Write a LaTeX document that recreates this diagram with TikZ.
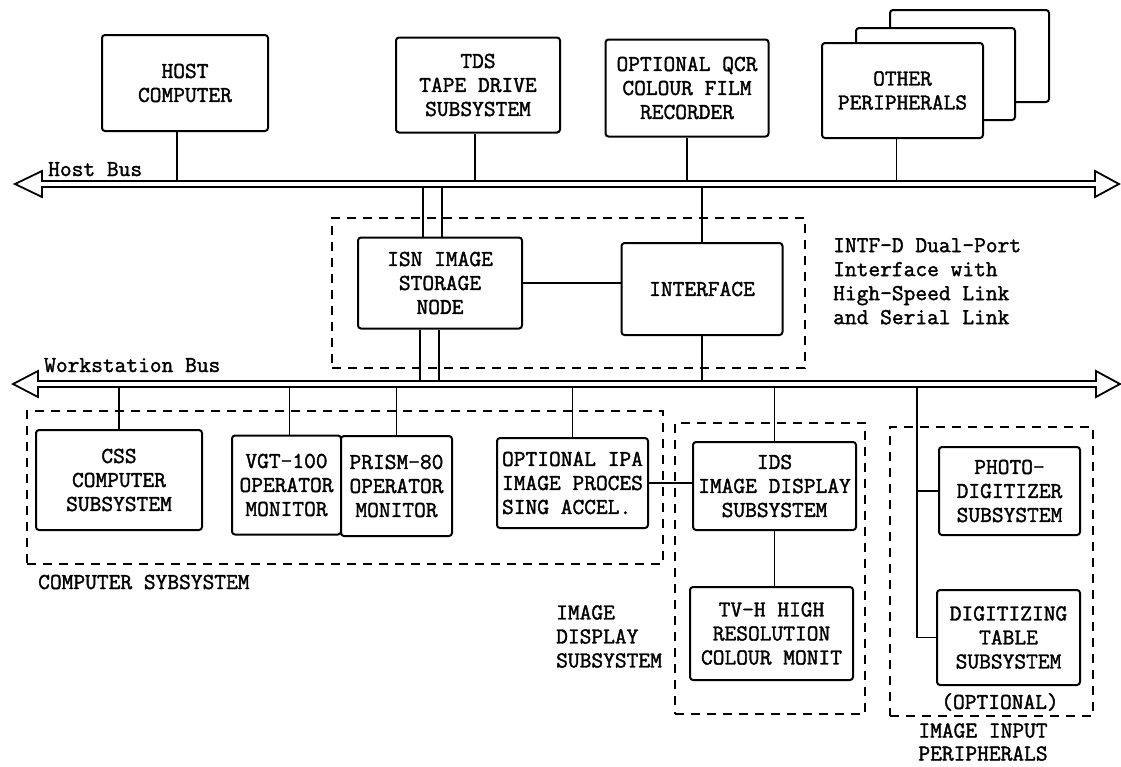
\documentclass[tikz,border=0pt]{standalone}
\usepackage{fontspec}
\newfontfamily\twfont[FakeBold=1.6]{Latin Modern Mono}
\newcommand\dgfont{\twfont\fontsize{22.8}{24}\selectfont}
\usetikzlibrary{calc}
\begin{document}
\begin{tikzpicture}[x=1pt,y=-1pt,
  box/.style={draw, line width=2pt, rounded corners=3pt, align=center, inner sep=1pt, fill=white, font=\dgfont},
  dashbox/.style={draw, line width=1.6pt, dash pattern=on 9pt off 7pt, inner sep=0pt},
  conn/.style={line width=1.3pt},
  bus/.style={line width=1.8pt, line join=miter, fill=white},
  lbl/.style={inner sep=0pt, font=\dgfont}]
\useasboundingbox (0,0) rectangle (1121,766);

% ---------- buses ----------
\draw[bus] (15,184) -- (42,171) -- (42,181) -- (1095,181) -- (1095,171) -- (1119,184)
  -- (1095,197) -- (1095,187) -- (42,187) -- (42,197) -- cycle;
\coordinate (hbt) at (0,181);
\coordinate (hbb) at (0,187);
\draw[bus] (13,384) -- (38,371) -- (38,381) -- (1096,381) -- (1096,371) -- (1120,384)
  -- (1096,397) -- (1096,387) -- (38,387) -- (38,397) -- cycle;
\coordinate (wbt) at (0,381);
\coordinate (wbb) at (0,387);
\node[lbl, anchor=base west] (hbl) at (48,176) {Host Bus};
\node[lbl, anchor=base west] (wbl) at (44,372) {Workstation Bus};

% ---------- top peripherals ----------
\node[box, minimum width=166, minimum height=96] (host) at (185,83) {HOST\\COMPUTER};
\node[box, minimum width=164, minimum height=95] (tds) at (478,85) {TDS\\TAPE DRIVE\\SUBSYSTEM};
\node[box, minimum width=163, minimum height=97] (qcr) at (687,88) {OPTIONAL QCR\\COLOUR FILM\\RECORDER};
\node[box, minimum width=159, minimum height=92] (oth3) at (969.5,56) {};
\node[box, minimum width=159, minimum height=92] (oth2) at (935.5,74) {};
\node[box, minimum width=161, minimum height=95] (oth) at (902.5,90.5) {OTHER\\PERIPHERALS};

\coordinate (hc) at ($(host.south)+(-8,0)$);
\draw[conn] (hc) -- (hc |- hbt);
\coordinate (tc) at ($(tds.south)+(-3,0)$);
\draw[conn] (tc) -- (tc |- hbt);
\draw[conn] (qcr.south) -- (qcr.south |- hbt);
\coordinate (oc) at ($(oth.south)+(-6,0)$);
\draw[conn] (oc) -- (oc |- hbt);

% ---------- interface block ----------
\node[dashbox, minimum width=473, minimum height=150] (intfbox) at (568.5,293) {};
\node[box, minimum width=164, minimum height=91] (isn) at (440,283) {ISN IMAGE\\STORAGE\\NODE};
\node[box, minimum width=161, minimum height=92] (intf) at (702,289) {INTERFACE};
\draw[conn] (isn.east) -- (isn.east -| intf.west);
\draw[conn] (intf.north) -- (intf.north |- hbb);
\draw[conn] (intf.south) -- (intf.south |- wbt);
\coordinate (ia) at ($(isn.north)+(-17,0)$);
\coordinate (ib) at ($(isn.north)+(2,0)$);
\coordinate (ic) at ($(isn.south)+(-20,0)$);
\coordinate (id) at ($(isn.south)+(-1,0)$);
\draw[conn] (ia) -- (ia |- hbb);
\draw[conn] (ib) -- (ib |- hbb);
\draw[conn] (ic) -- (ic |- wbt);
\draw[conn] (id) -- (id |- wbt);
\node[lbl, anchor=north west, align=left] (intftxt) at (833,238)
  {INTF-D Dual-Port\\Interface with\\High-Speed Link\\and Serial Link};

% ---------- lower subsystems ----------
\node[dashbox, minimum width=636, minimum height=153] (compsys) at (345,487.5) {};
\node[dashbox, minimum width=190, minimum height=291] (idsbox) at (770,568.5) {};
\node[dashbox, minimum width=203, minimum height=289] (inbox) at (991.5,571.5) {};

\node[box, minimum width=166, minimum height=100] (css) at (119,480) {CSS\\COMPUTER\\SUBSYSTEM};
\node[box, minimum width=109, minimum height=99] (vgt) at (286.5,485) {VGT-100\\OPERATOR\\MONITOR};
\node[box, minimum width=111, minimum height=100] (prism) at (396.5,486) {PRISM-80\\OPERATOR\\MONITOR};
\node[box, minimum width=151, minimum height=90, align=left] (ipa) at (572.5,483) {OPTIONAL IPA\\IMAGE PROCES\\SING ACCEL.};
\node[box, minimum width=163, minimum height=88] (ids) at (774.5,486) {IDS\\IMAGE DISPLAY\\SUBSYSTEM};
\node[box, minimum width=163, minimum height=93] (tvh) at (771.5,633.5) {TV-H HIGH\\RESOLUTION\\COLOUR MONIT};
\node[box, minimum width=141, minimum height=88] (photo) at (1009.5,491) {PHOTO-\\DIGITIZER\\SUBSYSTEM};
\node[box, minimum width=143, minimum height=95] (digit) at (1008.5,637.5) {DIGITIZING\\TABLE\\SUBSYSTEM};

\draw[conn] (css.north) -- (css.north |- wbb);
\coordinate (vc) at ($(vgt.north)+(3,0)$);
\draw[conn] (vc) -- (vc |- wbb);
\draw[conn] (prism.north) -- (prism.north |- wbb);
\draw[conn] (ipa.north) -- (ipa.north |- wbb);
\draw[conn] (ids.north) -- (ids.north |- wbb);
\draw[conn] (ipa.east) -- (ipa.east -| ids.west);
\draw[conn] (ids.south) -- (ids.south |- tvh.north);
\coordinate (inp) at (917,0);
\draw[conn] (inp |- wbb) |- (digit.west);
\draw[conn] (inp |- photo.west) -- (photo.west);

\node[lbl, anchor=base west] (complbl) at (38,589) {COMPUTER SYBSYSTEM};
\node[lbl, anchor=north west, align=left] (idslbl) at (556,605) {IMAGE\\DISPLAY\\SUBSYSTEM};
\node[lbl] (optl) at (1000,702) {(OPTIONAL)};
\node[lbl, align=center, anchor=south, font=\twfont\fontsize{22.8}{23}\selectfont] (inlbl) at (983,761) {IMAGE INPUT\\PERIPHERALS};
\end{tikzpicture}
\end{document}
